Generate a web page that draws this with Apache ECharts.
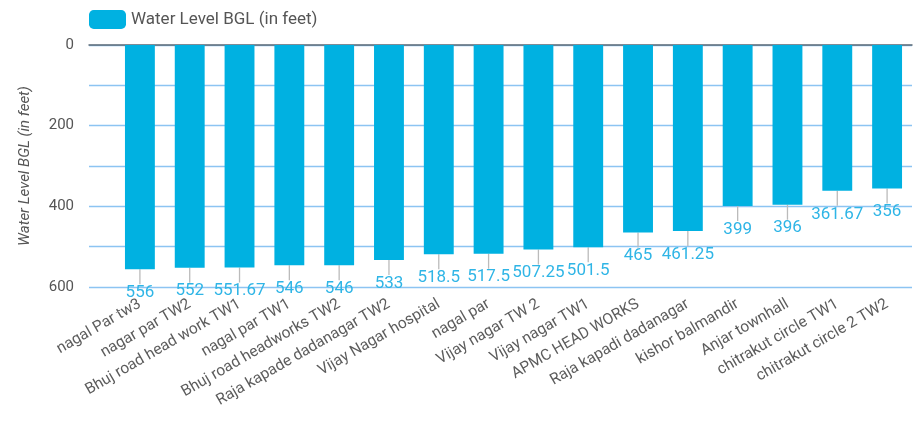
<!DOCTYPE html>
<html>
<head>
<meta charset="utf-8">
<script src="https://cdn.jsdelivr.net/npm/echarts@6/dist/echarts.min.js"></script>
<style>
  html, body { margin: 0; padding: 0; background: #fff; }
  #chart { width: 922px; height: 422px; }
</style>
</head>
<body>
<div id="chart"></div>
<script>
const sites = [
  "nagal Par tw3", "nagar par TW2", "Bhuj road head work TW1", "nagal par TW1",
  "Bhuj road headworks TW2", "Raja kapade dadanagar TW2", "Vijay Nagar hospital", "nagal par",
  "Vijay nagar TW 2", "Vijay nagar TW1", "APMC HEAD WORKS", "Raja kapadi dadanagar",
  "kishor balmandir", "Anjar townhall", "chitrakut circle TW1", "chitrakut circle 2 TW2",
];
const levelBgl = [556, 552, 551.67, 546, 546, 533, 518.5, 517.5, 507.25, 501.5, 465, 461.25, 399, 396, 361.67, 356];
const seriesName = "Water Level BGL (in feet)";
const yTickLabels = [0, 200, 400, 600];

const chart = echarts.init(document.getElementById("chart"));

// grid 0 carries the wide gridlines + y labels, grid 1 carries the bars (they start further right)
chart.setOption({
  animation: false,
  textStyle: { fontFamily: "Roboto, sans-serif" },
  legend: {
    data: [seriesName],
    left: 84,
    top: 5,
    itemWidth: 37,
    itemHeight: 19,
    itemGap: 8,
    textStyle: { color: "#555", fontSize: 17 },
  },
  grid: [
    { left: 89, right: 10, top: 45, bottom: 135 },
    { left: 115, right: 10, top: 45, bottom: 135 },
  ],
  xAxis: [
    {
      gridIndex: 0,
      type: "category",
      data: sites,
      position: "top",
      axisLine: { show: true, lineStyle: { color: "#5f6b75", width: 1.5 } },
      axisTick: { show: false },
      axisLabel: { show: false },
    },
    {
      gridIndex: 1,
      type: "category",
      data: sites,
      axisLine: { show: false },
      axisTick: { show: false },
      axisLabel: {
        color: "#5c5c5c",
        fontSize: 15.5,
        rotate: 30,
        interval: 0,
        margin: 16,
      },
    },
  ],
  yAxis: [
    {
      gridIndex: 0,
      type: "value",
      inverse: true,
      min: 0,
      max: 600,
      interval: 100,
      name: seriesName,
      nameLocation: "middle",
      nameGap: 56,
      nameTextStyle: { color: "#555", fontSize: 15, fontStyle: "italic" },
      axisLine: { show: false },
      axisTick: { show: false },
      axisLabel: {
        color: "#555",
        fontSize: 15,
        margin: 15,
        formatter: (v) => (yTickLabels.includes(v) ? String(v) : ""),
      },
      splitLine: { lineStyle: { color: "#8cc4f2", width: 1.3 } },
    },
    {
      gridIndex: 1,
      type: "value",
      inverse: true,
      min: 0,
      max: 600,
      interval: 100,
      show: false,
      splitLine: { show: false },
    },
  ],
  series: [
    {
      name: seriesName,
      type: "bar",
      xAxisIndex: 1,
      yAxisIndex: 1,
      data: levelBgl,
      barWidth: "60%",
      itemStyle: { color: "#00b1e1" },
      label: {
        show: true,
        position: "bottom",
        distance: 2,
        color: "#2fb5e6",
        fontSize: 17,
      },
      labelLayout: { dy: 13 },
      labelLine: { show: true, lineStyle: { color: "#bbb", width: 1.3 } },
    },
  ],
});
</script>
</body>
</html>
